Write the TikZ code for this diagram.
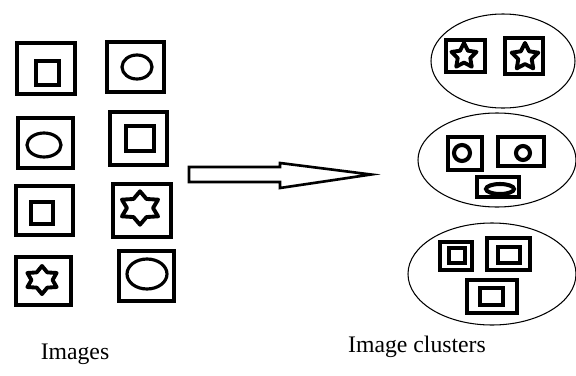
\documentclass[tikz,border=0pt]{standalone}
\usepackage{fontspec}
\setmainfont{Liberation Serif}
\usetikzlibrary{shapes.geometric}

\tikzset{
  frame/.style={line width=2.2pt},
  fatframe/.style={line width=2.8pt},
  inner/.style={line width=1.8pt},
  fatinner/.style={line width=2.3pt},
  blob/.style={line width=0.6pt},
  starmark/.style={draw, star, inner sep=0pt, line width=2.2pt, line join=round},
  caption/.style={font=\fontsize{13.5}{16}\selectfont}
}

\begin{document}
\begin{tikzpicture}[x=0.02cm,y=-0.02cm]
\useasboundingbox (0,0) rectangle (576,376);

% images on the left
\draw[frame] (17,43) rectangle (75,94);
\draw[inner] (36,61) rectangle (59,85);
\draw[frame] (107,42) rectangle (164,92);
\draw[inner] (137,67) ellipse (15 and 12);
\draw[frame] (18,118) rectangle (73,168);
\draw[inner] (44,145) ellipse (17 and 12);
\draw[frame] (110,112) rectangle (167,165);
\draw[inner] (126,126) rectangle (154,151);
\draw[frame] (16,186) rectangle (73,235);
\draw[inner] (31,202) rectangle (53,224);
\draw[frame] (113,184) rectangle (171,237);
\node[starmark, star points=6, star point ratio=1.6, minimum size=19pt, xscale=1.25] (hexa) at (140,208) {};
\draw[frame] (16,257) rectangle (71,305);
\node[starmark, star points=6, star point ratio=1.6, minimum size=16pt, xscale=1.2] (hexb) at (42,280) {};
\draw[frame] (119,251) rectangle (174,301);
\draw[inner] (147,274) ellipse (20 and 15);

% the big hollow arrow
\draw[line width=1.5pt, line join=miter]
  (189,167) -- (280,167) -- (280,163) -- (371,174.5) -- (280,188) -- (280,182) -- (189,182) -- cycle;

% clusters on the right
\draw[blob] (503,61) ellipse (72 and 47);
\draw[fatframe] (446,40) rectangle (485,72);
\node[starmark, star points=5, star point ratio=2, minimum size=15pt] (pa) at (464,56) {};
\draw[fatframe] (505,38) rectangle (543,74);
\node[starmark, star points=5, star point ratio=2, minimum size=16pt] (pb) at (525,57) {};

\draw[blob] (497,160) ellipse (79 and 47);
\draw[fatframe] (448,137) rectangle (482,170);
\draw[fatinner] (462,153) circle (8);
\draw[fatframe] (498,137) rectangle (544,166);
\draw[fatinner] (523,153) circle (7);
\draw[fatframe] (477,177) rectangle (519,197);
\draw[fatinner] (500,189) ellipse (14 and 5);

\draw[blob] (492,274) ellipse (84 and 51);
\draw[fatframe] (440,242) rectangle (472,270);
\draw[fatframe] (449,248) rectangle (465,263);
\draw[fatframe] (487,238) rectangle (530,270);
\draw[fatinner] (498,247) rectangle (520,263);
\draw[fatframe] (467,280) rectangle (517,313);
\draw[fatinner] (480,288) rectangle (503,305);

\node[caption] (imgs) at (75,354) {Images};
\node[caption] (clus) at (417,347) {Image clusters};
\end{tikzpicture}
\end{document}
